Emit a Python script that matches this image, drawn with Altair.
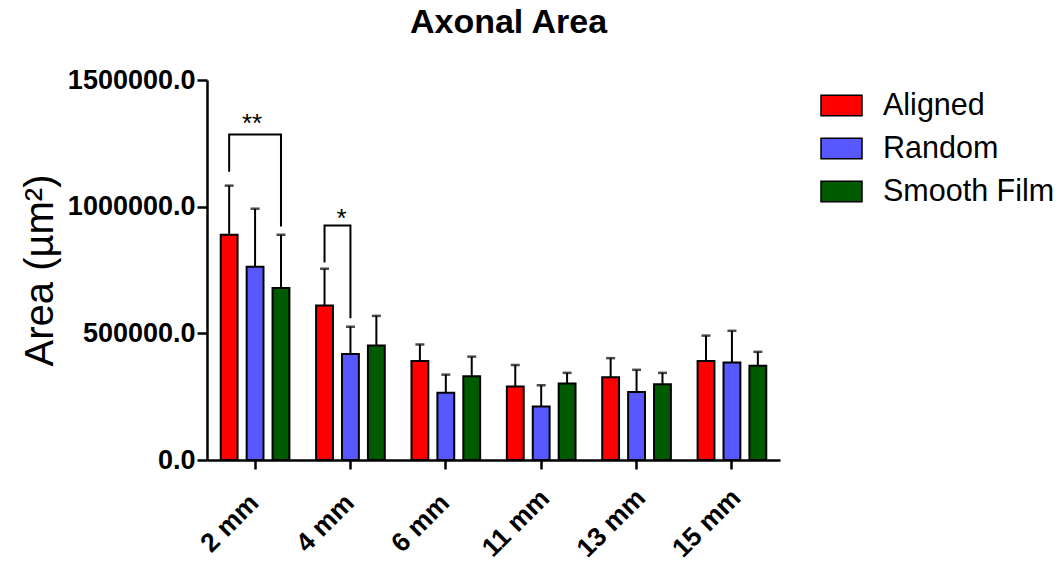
import altair as alt
import pandas as pd

groups = ["2 mm", "4 mm", "6 mm", "11 mm", "13 mm", "15 mm"]
series = ["Aligned", "Random", "Smooth Film"]
colors = ["#ff0000", "#5858ff", "#005a00"]

aligned = [889000, 610000, 391000, 290000, 327000, 391000]
aligned_err = [194000, 145000, 65000, 85000, 75000, 100000]
random_ = [763000, 418000, 265000, 211000, 268000, 385000]
random_err = [229000, 108000, 72000, 84000, 88000, 125000]
smooth = [679000, 452000, 331000, 302000, 299000, 372000]
smooth_err = [210000, 117000, 77000, 42000, 45000, 55000]

# significance brackets: (id, group, series, y, order)
br_id = ["b1", "b1", "b1", "b1", "b2", "b2", "b2", "b2"]
br_group = ["2 mm", "2 mm", "2 mm", "2 mm", "4 mm", "4 mm", "4 mm", "4 mm"]
br_series = ["Aligned", "Aligned", "Smooth Film", "Smooth Film",
             "Aligned", "Aligned", "Random", "Random"]
br_y = [1138000, 1285000, 1285000, 922000, 780000, 926000, 926000, 560000]
br_order = [0, 1, 2, 3, 0, 1, 2, 3]

star_group = ["2 mm", "4 mm"]
star_series = ["Random", "Random"]
star_y = [1296000, 921000]
star_text = ["**", "*"]

rows = []
for vals, errs, s in [(aligned, aligned_err, "Aligned"), (random_, random_err, "Random"),
                      (smooth, smooth_err, "Smooth Film")]:
    for g, v, e in zip(groups, vals, errs):
        rows.append({"group": g, "series": s, "value": v, "upper": v + e})
df = pd.DataFrame(rows)

br = pd.DataFrame({"id": br_id, "group": br_group, "series": br_series,
                   "y": br_y, "ord": br_order})
st = pd.DataFrame({"group": star_group, "series": star_series, "y": star_y,
                   "text": star_text})

FONT = "Liberation Sans"

xenc = alt.X("group:N", sort=groups,
             scale=alt.Scale(domain=groups, paddingInner=0.28, paddingOuter=0.144),
             axis=alt.Axis(title=None, labelAngle=-45, labelAlign="center",
                           labelBaseline="middle", labelPadding=54, labelOffset=-25,
                           labelFontSize=26.5,
                           labelFontWeight="bold", labelFont=FONT, labelColor="black",
                           tickSize=9, tickWidth=2.5, tickColor="black",
                           domainColor="black", domainWidth=2.5))
xoff = alt.XOffset("series:N", sort=series,
                   scale=alt.Scale(domain=series, paddingInner=0.35, paddingOuter=0))
yscale = alt.Scale(domain=[0, 1500000], nice=False)

bars = alt.Chart(df).mark_bar(stroke="black", strokeWidth=2).encode(
    x=xenc,
    xOffset=xoff,
    y=alt.Y("value:Q", scale=yscale,
            axis=alt.Axis(title="Area (µm²)", values=[0, 500000, 1000000, 1500000],
                          format=".1f", grid=False, labelFontSize=27,
                          labelFontWeight="bold", labelFont=FONT, labelColor="black",
                          labelPadding=2, tickSize=10, tickWidth=2.5,
                          tickColor="black", domainColor="black", domainWidth=2.5,
                          titleFont=FONT, titleFontSize=40, titleFontWeight="normal",
                          titleColor="black", titleX=-155, titleBaseline="alphabetic")),
    color=alt.Color("series:N", sort=series,
                    scale=alt.Scale(domain=series, range=colors),
                    legend=alt.Legend(title=None, orient="none", legendX=613, legendY=4,
                                      symbolType="M-1,-0.5H1V0.5H-1Z", symbolSize=1681,
                                      symbolStrokeColor="black", symbolStrokeWidth=1.5,
                                      symbolOpacity=1, labelLimit=400,
                                      labelFont=FONT, labelFontSize=30.5, labelColor="black",
                                      labelOffset=20, rowPadding=6, padding=0)),
)

err = alt.Chart(df).mark_rule(color="black", strokeWidth=2).encode(
    x=alt.X("group:N", sort=groups), xOffset=alt.XOffset("series:N", sort=series),
    y=alt.Y("value:Q"), y2="upper:Q")

caps = alt.Chart(df).mark_tick(color="black", thickness=2.5, size=9,
                               orient="horizontal").encode(
    x=alt.X("group:N", sort=groups), xOffset=alt.XOffset("series:N", sort=series),
    y=alt.Y("upper:Q"))

brackets = alt.Chart(br).mark_line(color="black", strokeWidth=2).encode(
    x=alt.X("group:N", sort=groups), xOffset=alt.XOffset("series:N", sort=series),
    y=alt.Y("y:Q"), detail="id:N", order="ord:Q")

star_base = alt.Chart(st)
stars2 = star_base.transform_filter(alt.datum.text == "**").mark_text(
    fontSize=26, font=FONT, baseline="alphabetic", color="black", dx=-3).encode(
    x=alt.X("group:N", sort=groups), xOffset=alt.XOffset("series:N", sort=series),
    y=alt.Y("y:Q"), text="text:N")
stars1 = star_base.transform_filter(alt.datum.text == "*").mark_text(
    fontSize=26, font=FONT, baseline="alphabetic", color="black", dx=-9).encode(
    x=alt.X("group:N", sort=groups), xOffset=alt.XOffset("series:N", sort=series),
    y=alt.Y("y:Q"), text="text:N")

chart = alt.layer(bars, err, caps, brackets, stars2, stars1).properties(
    width=573, height=380, autosize="none",
    padding={"left": 199, "top": 72, "right": 275, "bottom": 104},
    title=alt.TitleParams("Axonal Area", font=FONT, fontSize=34, fontWeight="bold",
                          color="black", anchor="middle", dx=15, offset=26),
).configure_view(stroke=None)

chart.save("out.html", embed_options={"renderer": "svg", "actions": False})
